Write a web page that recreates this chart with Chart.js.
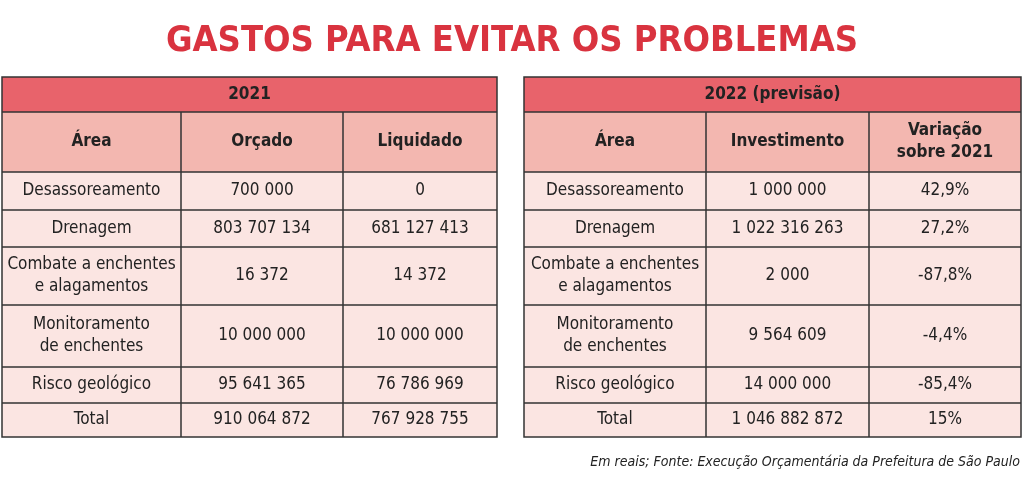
<!DOCTYPE html>
<html><head><meta charset="utf-8">
<script src="https://cdn.jsdelivr.net/npm/chart.js@4"></script>
<style>body{margin:0;background:#fff}</style>
</head><body>
<canvas id="tabela" width="1024" height="481"></canvas>
<script>
const titulo = "GASTOS PARA EVITAR OS PROBLEMAS";
const fonte = "Em reais; Fonte: Execução Orçamentária da Prefeitura de São Paulo";
const areas = ["Desassoreamento", "Drenagem", "Combate a enchentes\ne alagamentos", "Monitoramento\nde enchentes", "Risco geológico", "Total"];
const orcado2021 = ["700 000", "803 707 134", "16 372", "10 000 000", "95 641 365", "910 064 872"];
const liquidado2021 = ["0", "681 127 413", "14 372", "10 000 000", "76 786 969", "767 928 755"];
const investimento2022 = ["1 000 000", "1 022 316 263", "2 000", "9 564 609", "14 000 000", "1 046 882 872"];
const variacao2022 = ["42,9%", "27,2%", "-87,8%", "-4,4%", "-85,4%", "15%"];
const cabecalho2021 = ["Área", "Orçado", "Liquidado"];
const cabecalho2022 = ["Área", "Investimento", "Variação\nsobre 2021"];

// grid lines in chart units (the scale spans the whole picture)
const rowEdges = [77, 112, 172, 210, 247, 305, 367, 403, 437];
const colsLeft = [2, 181, 343, 497];
const colsRight = [524, 706, 869, 1021];

const FAM = '"DejaVu Sans Condensed", Roboto, sans-serif';

function drawTable(chart, cols, year, head, c1, c2, c3) {
    const ctx = chart.ctx, sx = chart.scales.x, sy = chart.scales.y;
    const X = v => sx.getPixelForValue(v), Y = v => sy.getPixelForValue(v);
    const fills = ['#e8636b', '#f3b7b0', '#fbe5e2'];
    for (let r = 0; r < rowEdges.length - 1; r++) {
        ctx.fillStyle = r == 0 ? fills[0] : r == 1 ? fills[1] : fills[2];
        ctx.fillRect(X(cols[0]), Y(rowEdges[r]), X(cols[3]) - X(cols[0]), Y(rowEdges[r + 1]) - Y(rowEdges[r]));
    }
    ctx.strokeStyle = '#333'; ctx.lineWidth = 1.5;
    ctx.strokeRect(X(cols[0]), Y(rowEdges[0]), X(cols[3]) - X(cols[0]), Y(rowEdges[8]) - Y(rowEdges[0]));
    ctx.beginPath();
    for (let r = 1; r < rowEdges.length - 1; r++) {
        ctx.moveTo(X(cols[0]), Y(rowEdges[r])); ctx.lineTo(X(cols[3]), Y(rowEdges[r]));
    }
    for (let c = 1; c < 3; c++) {
        ctx.moveTo(X(cols[c]), Y(rowEdges[1])); ctx.lineTo(X(cols[c]), Y(rowEdges[8]));
    }
    ctx.stroke();
    ctx.textAlign = 'center'; ctx.textBaseline = 'middle'; ctx.fillStyle = '#222';
    function cell(txt, c, r, bold) {
        ctx.font = (bold ? 'bold 17px ' : '17px ') + FAM;
        const lines = txt.split('\n');
        const cx = (X(cols[c]) + X(cols[c + 1])) / 2, cy = (Y(rowEdges[r]) + Y(rowEdges[r + 1])) / 2;
        lines.forEach((l, i) => ctx.fillText(l, cx, cy + (i - (lines.length - 1) / 2) * 22));
    }
    ctx.font = 'bold 17px ' + FAM;
    ctx.fillText(year, (X(cols[0]) + X(cols[3])) / 2, (Y(rowEdges[0]) + Y(rowEdges[1])) / 2);
    head.forEach((h, c) => cell(h, c, 1, true));
    for (let i = 0; i < areas.length; i++) {
        cell(areas[i], 0, i + 2); cell(c2[i], 1, i + 2); cell(c3[i], 2, i + 2);
    }
}

const tablePlugin = {
    id: 'tabela',
    afterDraw(chart) {
        const ctx = chart.ctx;
        ctx.save();
        ctx.fillStyle = '#d9333f'; ctx.textAlign = 'center'; ctx.textBaseline = 'middle';
        ctx.font = 'bold 36px ' + FAM;
        ctx.fillText(titulo, chart.scales.x.getPixelForValue(512), chart.scales.y.getPixelForValue(42));
        drawTable(chart, colsLeft, "2021", cabecalho2021, areas, orcado2021, liquidado2021);
        drawTable(chart, colsRight, "2022 (previsão)", cabecalho2022, areas, investimento2022, variacao2022);
        ctx.fillStyle = '#222'; ctx.textAlign = 'right';
        ctx.font = 'italic 14px ' + FAM;
        ctx.fillText(fonte, chart.scales.x.getPixelForValue(1020), chart.scales.y.getPixelForValue(462));
        ctx.restore();
    }
};

new Chart(document.getElementById('tabela').getContext('2d'), {
    type: 'scatter',
    data: { datasets: [{ data: [] }] },
    options: {
        responsive: false, animation: false,
        layout: { padding: 0 },
        plugins: { legend: { display: false }, tooltip: { enabled: false } },
        scales: {
            x: { type: 'linear', min: 0, max: 1024, display: false },
            y: { type: 'linear', min: 0, max: 481, reverse: true, display: false }
        }
    },
    plugins: [tablePlugin]
});
</script>
</body></html>
